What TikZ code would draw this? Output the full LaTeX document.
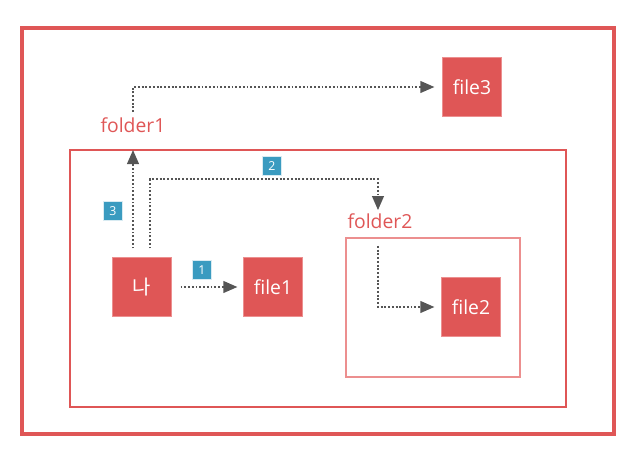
\documentclass[tikz,border=0pt]{standalone}
\usepackage{fontspec}
\setmainfont{Open Sans}
\newfontfamily\krfont{Noto Sans CJK KR}
\usetikzlibrary{arrows.meta, calc, positioning}
\definecolor{boxred}{HTML}{DF5656}
\definecolor{lightred}{HTML}{EC8F8F}
\definecolor{badgeblue}{HTML}{3A9BC0}
\definecolor{arrowgray}{HTML}{555555}

\begin{document}
\begin{tikzpicture}[x=0.03cm, y=-0.03cm,
    filebox/.style={fill=boxred, draw=lightred, line width=0.4pt, text=white, minimum size=1.76cm, inner sep=0pt, font=\fontsize{16.5}{19}\selectfont},
    folderlabel/.style={text=boxred, inner sep=1pt, font=\fontsize{16.5}{19}\selectfont},
    badge/.style={fill=badgeblue, draw=white!80!badgeblue, line width=0.4pt, text=white, minimum width=0.58cm, minimum height=0.56cm, inner sep=0pt, font=\fontsize{10.5}{12}\selectfont},
    dots/.style={draw=arrowgray, line width=1.6pt, dash pattern=on 1.6pt off 1.6pt},
    link/.style={dots, -{Triangle[length=12pt, width=10pt, fill=arrowgray]}}]
    \useasboundingbox (0,0) rectangle (636,460);

    % containers
    \draw[boxred, line width=2.6pt] (22,28) rectangle (614,434);
    \draw[boxred, line width=1.8pt] (70,150) rectangle (566,407);
    \draw[lightred, line width=1.2pt] (346,238) rectangle (520,377);
    \coordinate (parenttop) at (133,150);

    \node[folderlabel] (folder1) at (133,125) {folder1};
    \node[folderlabel] (folder2) at (380,221) {folder2};

    \node[filebox] (file3) at (472,87) {file3};
    \node[filebox, font=\krfont\fontsize{17}{19}\selectfont] (me) at (142,287) {나};
    \node[filebox] (file1) at (273,287) {file1};
    \node[filebox] (file2) at (471,307) {file2};

    \node[badge] (one) at (202,270) {1};
    \node[badge] (two) at (272,166) {2};
    \node[badge] (three) at (113,211) {3};

    % moves
    \draw[link] ($(me.east) + (9,0)$) -- ($(file1.west) + (-6,0)$);
    \draw[link]
        ($(me.north) + (8,-9)$)
        -- ($(me.north) + (8,-78)$)
        -| ($(folder2.north) + (-2,-2)$);
    \draw[link] ($(me.north) + (-9,-9)$) -- (parenttop);

    \draw[link]
        ($(folder1.north) + (0,-4)$)
        |- ($(file3.west) + (-8,0)$);
    \draw[link]
        ($(folder2.south) + (-2,16)$)
        |- ($(file2.west) + (-7,0)$);

\end{tikzpicture}
\end{document}
